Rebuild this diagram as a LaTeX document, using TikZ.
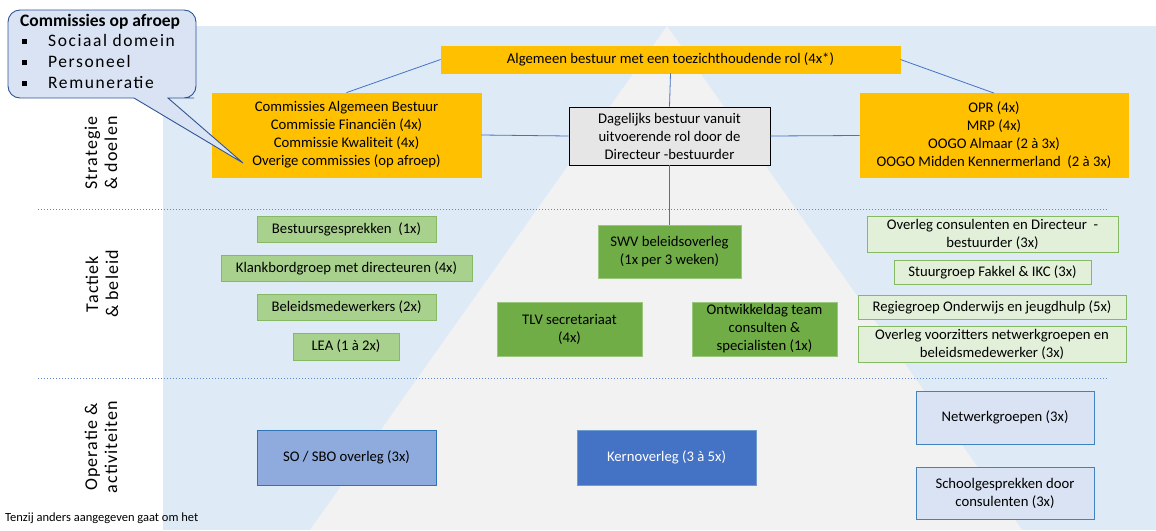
\documentclass[tikz,border=0pt]{standalone}
\usepackage{fontspec}
\setmainfont{Carlito}
\newfontfamily\spacedfont[LetterSpace=6]{Carlito}
\newfontfamily\listfont[LetterSpace=9]{Carlito}
\usetikzlibrary{positioning}

\definecolor{bgblue}{HTML}{DEEBF7}
\definecolor{pyrgray}{HTML}{F2F2F2}
\definecolor{boxorange}{HTML}{FFC000}
\definecolor{boxgray}{HTML}{E6E6E6}
\definecolor{greenlight}{HTML}{A9D18E}
\definecolor{greenmid}{HTML}{70AD47}
\definecolor{greenpale}{HTML}{E2F0D9}
\definecolor{bluemid}{HTML}{8FAADC}
\definecolor{bluedark}{HTML}{4472C4}
\definecolor{bluepale}{HTML}{DAE3F3}
\definecolor{blueedge}{HTML}{2E75B6}
\definecolor{calloutedge}{HTML}{2F5597}
\definecolor{linkblue}{HTML}{4472C4}

\tikzset{
  tile/.style={draw, inner sep=0pt, align=center, line width=0.8pt},
  gold/.style={tile, fill=boxorange, draw=boxorange},
  daily/.style={tile, fill=boxgray, draw=black},
  tactic/.style={tile, fill=greenlight, draw=greenmid!85!white},
  tacticmid/.style={tile, fill=greenmid, draw=greenmid!70!white},
  tacticpale/.style={tile, fill=greenpale, draw=greenmid!85!white},
  operate/.style={tile, fill=bluemid, draw=blueedge},
  operatedark/.style={tile, fill=bluedark, draw=blueedge!70!white, text=white},
  operatepale/.style={tile, fill=bluepale, draw=blueedge!90!white},
  link/.style={draw=linkblue, line width=0.8pt},
  sepline/.style={draw=linkblue!85!white, line width=1pt, dash pattern=on 1.4pt off 1.6pt},
  levellabel/.style={rotate=90, align=center, inner sep=0pt, font=\spacedfont\fontsize{18}{20}\selectfont}
}
\newcommand{\sqbullet}{\makebox[26pt][l]{\raisebox{2pt}{\rule{5pt}{5pt}}}}

\begin{document}
\begin{tikzpicture}[x=1pt, y=-1pt, font=\fontsize{14.7}{18}\selectfont]
    \useasboundingbox (0,0) rectangle (1156,530);

    % Background and pyramid
    \fill[bgblue] (163,26) rectangle (1156,530);
    \fill[pyrgray] (667,26) -- (310,530) -- (1022,530) -- cycle;

    % Level separators
    \coordinate (sepAl) at (38,209);
    \coordinate (sepAr) at (1108,209);
    \coordinate (sepBl) at (38,378);
    \coordinate (sepBr) at (1108,378);
    \draw[sepline] (sepAl) -- (sepAr);
    \draw[sepline] (sepBl) -- (sepBr);

    % Level labels
    \node[levellabel] (lvlStrat) at (101,153) {Strategie\\\& doelen};
    \node[levellabel] (lvlTact) at (102,284) {Tactiek\\\& beleid};
    \node[levellabel] (lvlOper) at (101,447) {Operatie \&\\activiteiten};

    % Strategie: boxes
    \node[gold, minimum width=459pt, minimum height=27pt] (ab) at (670.5,59.5)
        {Algemeen bestuur met een toezichthoudende rol (4x*)};
    \node[gold, minimum width=269pt, minimum height=84pt] (commAB) at (346.5,135)
        {Commissies Algemeen Bestuur\\Commissie Financiën (4x)\\Commissie Kwaliteit (4x)\\Overige commissies (op afroep)};
    \node[daily, minimum width=201pt, minimum height=58pt] (db) at (669.5,136)
        {Dagelijks bestuur vanuit\\uitvoerende rol door de\\Directeur -bestuurder};
    \node[gold, minimum width=268pt, minimum height=84pt] (opr) at (994,135.5)
        {OPR (4x)\\MRP (4x)\\OOGO Almaar (2 à 3x)\\OOGO Midden Kennermerland~ (2 à 3x)};

    % Tactiek: left column
    \node[tactic, minimum width=179pt, minimum height=26pt] (bg) at (346.5,229) {Bestuursgesprekken~ (1x)};
    \node[tactic, minimum width=251pt, minimum height=26pt] (kb) at (346.5,268) {Klankbordgroep met directeuren (4x)};
    \node[tactic, minimum width=179pt, minimum height=26pt] (bm) at (346.5,307) {Beleidsmedewerkers (2x)};
    \node[tactic, minimum width=106pt, minimum height=27pt] (lea) at (346,346.5) {LEA (1 à 2x)};

    % Tactiek: middle
    \node[tacticmid, minimum width=143pt, minimum height=53pt] (swv) at (669.5,251.5) {SWV beleidsoverleg\\(1x per 3 weken)};
    \node[tacticmid, minimum width=145pt, minimum height=54pt] (tlv) at (569.5,329) {TLV secretariaat\\(4x)};
    \node[tacticmid, minimum width=145pt, minimum height=54pt] (otd) at (764.5,329) {Ontwikkeldag team\\consulten \&\\specialisten (1x)};

    % Tactiek: right column
    \node[tacticpale, minimum width=251pt, minimum height=36pt] (ocd) at (992.5,234) {Overleg consulenten en Directeur~ -\\bestuurder (3x)};
    \node[tacticpale, minimum width=197pt, minimum height=24pt] (sfi) at (992.5,272.5) {Stuurgroep Fakkel \& IKC (3x)};
    \node[tacticpale, minimum width=268pt, minimum height=24pt] (roj) at (992,307) {Regiegroep Onderwijs en jeugdhulp (5x)};
    \node[tacticpale, minimum width=268pt, minimum height=36pt] (ovn) at (992,344) {Overleg voorzitters netwerkgroepen en\\beleidsmedewerker (3x)};

    % Operatie
    \node[operate, minimum width=179pt, minimum height=55pt] (sbo) at (346.5,457.5) {SO / SBO overleg (3x)};
    \node[operatedark, minimum width=179pt, minimum height=55pt] (kern) at (666.5,457.5) {Kernoverleg (3 à 5x)};
    \node[operatepale, minimum width=178pt, minimum height=53pt] (nwg) at (1005,417.5) {Netwerkgroepen (3x)};
    \node[operatepale, minimum width=178pt, minimum height=52pt] (sgc) at (1005,493) {Schoolgesprekken door\\consulenten (3x)};

    % Connectors
    \draw[link] (ab.west) -- (commAB.north);
    \draw[link] (ab.east) -- (opr.north);
    \draw[link] (ab.south) -- (db.north);
    \draw[link] (commAB.east) -- (db.west);
    \draw[link] (db.east) -- (opr.west);
    \draw[link] (db.south) -- (swv.north);

    % Callout: commissies op afroep
    \draw[fill=bluepale, draw=calloutedge, line width=0.9pt]
        (120,98) [rounded corners=12pt] -- (8,98) -- (8,10) -- (196,10) -- (196,98) -- (182,98)
        [sharp corners] -- (168,98) -- (243,163) -- (134,98) -- cycle;
    \node[anchor=west, inner sep=0pt, font=\bfseries\fontsize{17.5}{21}\selectfont] (afroep) at (20,22) {Commissies op afroep};
    \node[align=left, inner sep=0pt, font=\listfont\fontsize{17.5}{21}\selectfont,
          below=4pt of afroep.south west, anchor=north west, xshift=2pt] (afroepList)
        {\sqbullet Sociaal domein\\\sqbullet Personeel\\\sqbullet Remuneratie};

    % Footnote
    \node[anchor=south west, inner sep=0pt, font=\fontsize{12.5}{14}\selectfont] (note) at (5,524) {Tenzij anders aangegeven gaat om het};
\end{tikzpicture}
\end{document}
